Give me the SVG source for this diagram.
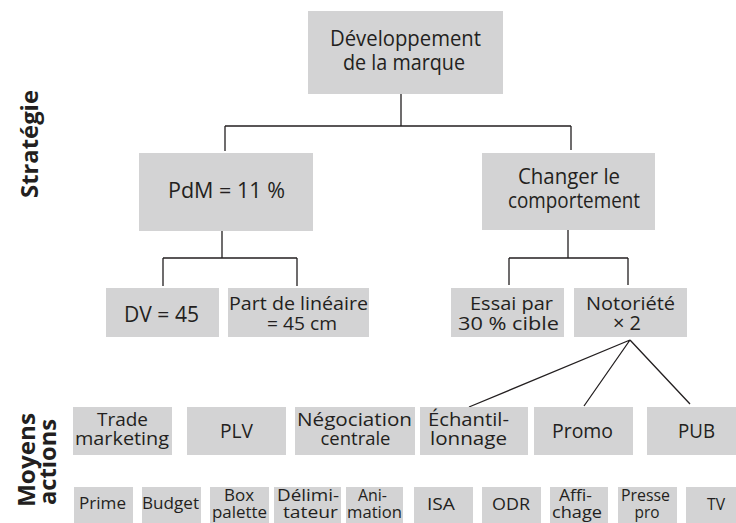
<svg xmlns="http://www.w3.org/2000/svg" width="736" height="523" viewBox="0 0 736 523">
  <style>
    .box { fill: #d3d3d4; }
    .t { font-family: "Open Sans", "Liberation Sans", sans-serif; fill: #231f20; text-anchor: middle; }
    .s1 { font-size: 22px; }
    .s2 { font-size: 19px; }
    .s2b { font-size: 20px; }
    .s3 { font-size: 16px; }
    .s3b { font-size: 17px; }
    .side { font-family: "Open Sans", "Liberation Sans", sans-serif; font-weight: bold; font-size: 24px; fill: #231f20; text-anchor: middle; }
    .wire { fill: none; stroke: #231f20; stroke-width: 1.3; }
  </style>
  <rect width="736" height="523" fill="#ffffff"/>

  <!-- side labels -->
  <g id="label-strategie">
    <text class="side" transform="translate(37.5,144) rotate(-90)" textLength="108" lengthAdjust="spacingAndGlyphs">Stratégie</text>
  </g>
  <g id="label-moyens">
    <text class="side" transform="translate(34.5,460) rotate(-90)" textLength="94" lengthAdjust="spacingAndGlyphs">Moyens</text>
    <text class="side" transform="translate(55.5,462) rotate(-90)" textLength="86" lengthAdjust="spacingAndGlyphs">actions</text>
  </g>

  <!-- connectors -->
  <g id="connectors" class="wire">
    <path d="M401 94 V126 M225 126 H571 M225 126 V151 M571 126 V150"/>
    <path d="M222 231 V258 M163 258 H297 M163 258 V286 M297 258 V286"/>
    <path d="M568 230 V258 M509 258 H628 M509 258 V285 M628 258 V285"/>
    <path d="M630 340 L469 407 M630 340 L584 406 M630 340 L690 404"/>
  </g>

  <!-- strategy tree -->
  <g id="n-developpement">
    <rect class="box" x="308" y="11" width="195" height="83"/>
    <text class="t s1" x="405.5" y="46" textLength="151" lengthAdjust="spacingAndGlyphs">Développement</text>
    <text class="t s1" x="404" y="70" textLength="122" lengthAdjust="spacingAndGlyphs">de la marque</text>
  </g>
  <g id="n-pdm">
    <rect class="box" x="139" y="153" width="174" height="78"/>
    <text class="t s1" x="226.5" y="198" textLength="117" lengthAdjust="spacingAndGlyphs">PdM = 11 %</text>
  </g>
  <g id="n-changer">
    <rect class="box" x="482" y="153" width="173" height="77"/>
    <text class="t s1" x="569" y="184" textLength="102" lengthAdjust="spacingAndGlyphs">Changer le</text>
    <text class="t s1" x="574" y="208" textLength="132" lengthAdjust="spacingAndGlyphs">comportement</text>
  </g>
  <g id="n-dv">
    <rect class="box" x="106" y="288" width="113" height="49"/>
    <text class="t s1" x="161.5" y="322" textLength="75" lengthAdjust="spacingAndGlyphs">DV = 45</text>
  </g>
  <g id="n-lineaire">
    <rect class="box" x="228" y="288" width="141" height="49"/>
    <text class="t s2" x="298.5" y="310" textLength="139" lengthAdjust="spacingAndGlyphs">Part de linéaire</text>
    <text class="t s2" x="302" y="330" textLength="70" lengthAdjust="spacingAndGlyphs">= 45 cm</text>
  </g>
  <g id="n-essai">
    <rect class="box" x="451" y="288" width="113" height="49"/>
    <text class="t s2" x="511.5" y="310" textLength="83" lengthAdjust="spacingAndGlyphs">Essai par</text>
    <text class="t s2" x="508.5" y="330" textLength="101" lengthAdjust="spacingAndGlyphs">30 % cible</text>
  </g>
  <g id="n-notoriete">
    <rect class="box" x="574" y="288" width="113" height="49"/>
    <text class="t s2" x="630.5" y="310" textLength="89" lengthAdjust="spacingAndGlyphs">Notoriété</text>
    <text class="t" x="627" y="330" font-size="20">× 2</text>
  </g>

  <!-- means row -->
  <g id="n-trade">
    <rect class="box" x="73" y="407" width="99" height="48"/>
    <text class="t s2" x="122.5" y="426" textLength="51" lengthAdjust="spacingAndGlyphs">Trade</text>
    <text class="t s2" x="122" y="445" textLength="94" lengthAdjust="spacingAndGlyphs">marketing</text>
  </g>
  <g id="n-plv">
    <rect class="box" x="187" y="407" width="99" height="48"/>
    <text class="t s2b" x="236.5" y="438" textLength="33" lengthAdjust="spacingAndGlyphs">PLV</text>
  </g>
  <g id="n-negociation">
    <rect class="box" x="295" y="407" width="120" height="48"/>
    <text class="t s2" x="354.5" y="426" textLength="115" lengthAdjust="spacingAndGlyphs">Négociation</text>
    <text class="t s2" x="355.5" y="445" textLength="70" lengthAdjust="spacingAndGlyphs">centrale</text>
  </g>
  <g id="n-echantillonnage">
    <rect class="box" x="420" y="407" width="108" height="48"/>
    <text class="t s2" x="468.5" y="426" textLength="81" lengthAdjust="spacingAndGlyphs">Échantil-</text>
    <text class="t s2" x="468.5" y="445" textLength="77" lengthAdjust="spacingAndGlyphs">lonnage</text>
  </g>
  <g id="n-promo">
    <rect class="box" x="534" y="407" width="99" height="48"/>
    <text class="t s2b" x="582.5" y="438" textLength="61" lengthAdjust="spacingAndGlyphs">Promo</text>
  </g>
  <g id="n-pub">
    <rect class="box" x="647" y="407" width="99" height="48"/>
    <text class="t s2b" x="696.5" y="438" textLength="37" lengthAdjust="spacingAndGlyphs">PUB</text>
  </g>

  <!-- actions row -->
  <g id="n-prime">
    <rect class="box" x="74" y="487" width="59" height="40"/>
    <text class="t s3b" x="102.5" y="509" textLength="47" lengthAdjust="spacingAndGlyphs">Prime</text>
  </g>
  <g id="n-budget">
    <rect class="box" x="142" y="487" width="59" height="40"/>
    <text class="t s3b" x="170.5" y="509" textLength="57" lengthAdjust="spacingAndGlyphs">Budget</text>
  </g>
  <g id="n-box-palette">
    <rect class="box" x="210" y="487" width="59" height="40"/>
    <text class="t s3" x="239" y="501" textLength="30" lengthAdjust="spacingAndGlyphs">Box</text>
    <text class="t s3" x="239.5" y="518" textLength="55" lengthAdjust="spacingAndGlyphs">palette</text>
  </g>
  <g id="n-delimitateur">
    <rect class="box" x="274" y="487" width="67" height="40"/>
    <text class="t s3" x="308" y="501" textLength="62" lengthAdjust="spacingAndGlyphs">Délimi-</text>
    <text class="t s3" x="310.5" y="518" textLength="55" lengthAdjust="spacingAndGlyphs">tateur</text>
  </g>
  <g id="n-animation">
    <rect class="box" x="346" y="487" width="57" height="40"/>
    <text class="t s3" x="372.5" y="501" textLength="29" lengthAdjust="spacingAndGlyphs">Ani-</text>
    <text class="t s3" x="374.5" y="518" textLength="55" lengthAdjust="spacingAndGlyphs">mation</text>
  </g>
  <g id="n-isa">
    <rect class="box" x="414" y="487" width="59" height="40"/>
    <text class="t s3b" x="441" y="510" textLength="28" lengthAdjust="spacingAndGlyphs">ISA</text>
  </g>
  <g id="n-odr">
    <rect class="box" x="482" y="487" width="59" height="40"/>
    <text class="t s3b" x="511" y="510" textLength="38" lengthAdjust="spacingAndGlyphs">ODR</text>
  </g>
  <g id="n-affichage">
    <rect class="box" x="550" y="487" width="58" height="40"/>
    <text class="t s3" x="575.5" y="501" textLength="33" lengthAdjust="spacingAndGlyphs">Affi-</text>
    <text class="t s3" x="577" y="518" textLength="50" lengthAdjust="spacingAndGlyphs">chage</text>
  </g>
  <g id="n-presse">
    <rect class="box" x="618" y="487" width="59" height="40"/>
    <text class="t s3" x="645.5" y="501" textLength="49" lengthAdjust="spacingAndGlyphs">Presse</text>
    <text class="t s3" x="647" y="518" textLength="25" lengthAdjust="spacingAndGlyphs">pro</text>
  </g>
  <g id="n-tv">
    <rect class="box" x="686" y="487" width="59" height="40"/>
    <text class="t s3b" x="716" y="510" textLength="18" lengthAdjust="spacingAndGlyphs">TV</text>
  </g>
</svg>
